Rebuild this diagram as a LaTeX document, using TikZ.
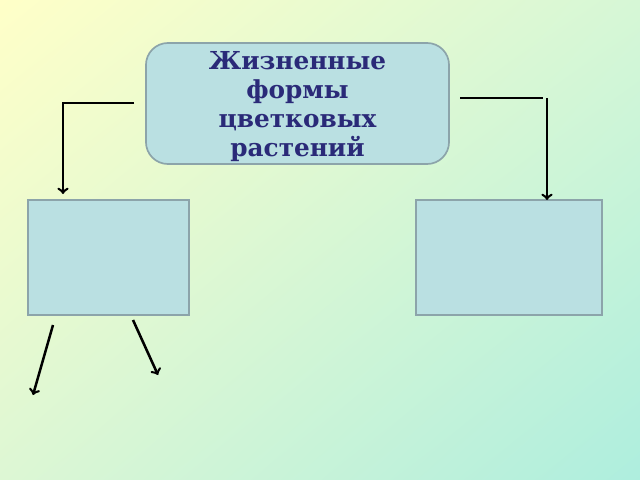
\documentclass[tikz,border=0pt]{standalone}
\usepackage{fontspec}
\setmainfont{DejaVu Serif}
\usepackage{tikz}
\usetikzlibrary{positioning,shadings}

\definecolor{bgA}{HTML}{FFFFC8}
\definecolor{bgB}{HTML}{D6F7D6}
\definecolor{bgC}{HTML}{DDF7D4}
\definecolor{bgD}{HTML}{AEEEDE}
\definecolor{boxfill}{HTML}{BAE0E2}
\definecolor{boxline}{HTML}{8CA4AA}
\definecolor{titleink}{HTML}{2A2A78}

\tikzset{
  titlebox/.style={draw=boxline, line width=1.2pt, fill=boxfill, rounded corners=0.55cm,
    minimum width=7.575cm, minimum height=3.025cm, inner ysep=1pt, align=center, text=titleink,
    font=\bfseries\fontsize{17.6}{20.6}\selectfont},
  emptybox/.style={draw=boxline, line width=1.2pt, fill=boxfill, minimum height=2.875cm},
  link/.style={line width=1.8pt, -to}
}

\begin{document}
\begin{tikzpicture}[x=0.025cm, y=-0.025cm]
  % Fondo
  \useasboundingbox (0,0) rectangle (640,480);
  \shade[upper left=bgA, upper right=bgB, lower left=bgC, lower right=bgD] (0,0) rectangle (640,480);

  % Nodo de arriba
  \node[titlebox] (title) at (297.5,103.5) {\rule{0pt}{17pt}Жизненные\\формы\\цветковых\\растений};
  % Cajas de abajo
  \node[emptybox, minimum width=4.025cm] (left) at (108.5,257.5) {};
  \node[emptybox, minimum width=4.65cm] (right) at (509,257.5) {};

  % Puntos de las conexiones
  \coordinate (lstart) at (134,103);
  \coordinate (lcorner) at (63,103);
  \coordinate (lend) at (63,194);
  \coordinate (rstart) at (460,98);
  \coordinate (rcorner) at (543,98);
  \coordinate (rtop) at (547,98);
  \coordinate (rend) at (547,200);
  \coordinate (aa) at (53,325);
  \coordinate (ab) at (33,395);
  \coordinate (ba) at (133,320);
  \coordinate (bb) at (158,375);

  % Conexiones
  \draw[link] (lstart) -- (lcorner) -- (lend);
  \draw[line width=1.8pt] (rstart) -- (rcorner);
  \draw[link] (rtop) -- (rend);
  \draw[link] (aa) -- (ab);
  \draw[link] (ba) -- (bb);
\end{tikzpicture}
\end{document}
